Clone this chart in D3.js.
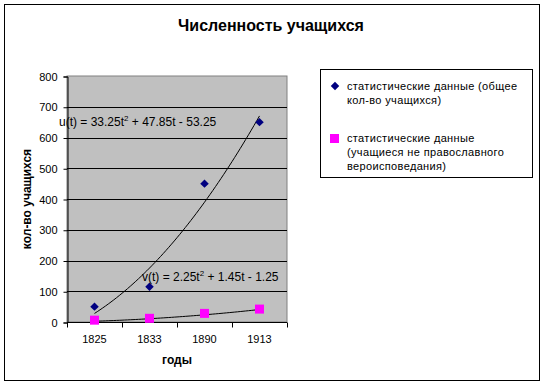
<!DOCTYPE html>
<html lang="ru">
<head>
<meta charset="UTF-8" />
<title>Численность учащихся</title>
<script src="https://cdn.jsdelivr.net/npm/d3@7"></script>
<style>
  body { margin: 0; background: #fff; }
  text { font-family: "Liberation Sans", Arial, sans-serif; fill: #000; }
</style>
</head>
<body>
<script>
  // data
  var years = ["1825", "1833", "1890", "1913"];
  var totalStudents = [50, 115, 450, 650];
  var nonOrthodox = [6, 12, 28, 42];
  var yTicks = [0, 100, 200, 300, 400, 500, 600, 700, 800];
  // trendline coefficients as printed on the chart (a*t^2 + b*t + c)
  var uCoef = [33.25, 47.85, -53.25];
  var vCoef = [2.25, 1.45, -1.25];

  var w = 544, h = 385;
  var plot = { left: 67, right: 287, top: 76, bottom: 322 };

  var svg = d3.select("body").append("svg")
    .attr("width", w)
    .attr("height", h);

  // outer frame
  svg.append("rect")
    .attr("x", 4.5).attr("y", 4.5)
    .attr("width", 535).attr("height", 376)
    .attr("fill", "#fff")
    .attr("stroke", "#000");

  svg.append("text")
    .attr("x", 271).attr("y", 31)
    .attr("text-anchor", "middle")
    .attr("font-size", "16px")
    .attr("font-weight", "bold")
    .text("Численность учащихся");

  var x = d3.scaleBand()
    .domain(years)
    .range([plot.left, plot.right])
    .padding(0);

  var y = d3.scaleLinear()
    .domain([0, 800])
    .range([plot.bottom, plot.top]);

  // plot area
  svg.append("rect")
    .attr("x", plot.left).attr("y", plot.top)
    .attr("width", plot.right - plot.left)
    .attr("height", plot.bottom - plot.top)
    .attr("fill", "#c0c0c0")
    .attr("stroke", "#808080");

  svg.selectAll(".grid")
    .data(yTicks.filter(function(d) { return d > 0 && d < 800; }))
    .enter()
    .append("line")
    .attr("class", "grid")
    .attr("x1", plot.left).attr("x2", plot.right)
    .attr("y1", function(d) { return Math.round(y(d)) + 0.5; })
    .attr("y2", function(d) { return Math.round(y(d)) + 0.5; })
    .attr("stroke", "#000");

  // y axis
  var yAxis = d3.axisLeft(y)
    .tickValues(yTicks)
    .tickSize(4)
    .tickPadding(6)
    .tickFormat(d3.format("d"));
  var gy = svg.append("g")
    .attr("transform", "translate(" + (plot.left + 0.5) + ",0.5)")
    .call(yAxis);
  gy.select(".domain").attr("stroke", "#000");
  gy.selectAll("text").attr("font-size", "11px").attr("font-family", "Liberation Sans, Arial, sans-serif");

  // x axis: ticks between categories
  var gx = svg.append("g")
    .attr("transform", "translate(0," + (plot.bottom + 0.5) + ")");
  gx.append("line")
    .attr("x1", plot.left).attr("x2", plot.right)
    .attr("stroke", "#000");
  var bounds = years.map(function(d) { return x(d); }).concat([plot.right]);
  gx.selectAll(".xt")
    .data(bounds)
    .enter()
    .append("line")
    .attr("class", "xt")
    .attr("x1", function(d) { return Math.round(d) + 0.5; })
    .attr("x2", function(d) { return Math.round(d) + 0.5; })
    .attr("y1", 0).attr("y2", 5)
    .attr("stroke", "#000");
  gx.selectAll(".xl")
    .data(years)
    .enter()
    .append("text")
    .attr("class", "xl")
    .attr("x", function(d) { return x(d) + x.bandwidth() / 2; })
    .attr("y", 20)
    .attr("text-anchor", "middle")
    .attr("font-size", "11px")
    .text(function(d) { return d; });

  svg.append("text")
    .attr("x", (plot.left + plot.right) / 2).attr("y", 364)
    .attr("text-anchor", "middle")
    .attr("font-size", "12px")
    .attr("font-weight", "bold")
    .text("годы");

  svg.append("text")
    .attr("transform", "translate(31," + (plot.top + plot.bottom) / 2 + ") rotate(-90)")
    .attr("text-anchor", "middle")
    .attr("font-size", "12px")
    .attr("font-weight", "bold")
    .text("кол-во учащихся");

  // trendlines, t = 1..4 maps onto category centres
  var tx = d3.scaleLinear()
    .domain([1, years.length])
    .range([x(years[0]) + x.bandwidth() / 2, x(years[years.length - 1]) + x.bandwidth() / 2]);
  var ts = d3.range(1, years.length + 0.001, 0.05);
  function poly(c) {
    return function(t) { return c[0] * t * t + c[1] * t + c[2]; };
  }
  var line = d3.line()
    .x(function(d) { return tx(d.t); })
    .y(function(d) { return y(d.v); });
  [uCoef, vCoef].forEach(function(c) {
    var f = poly(c);
    svg.append("path")
      .datum(ts.map(function(t) { return { t: t, v: f(t) }; }))
      .attr("d", line)
      .attr("fill", "none")
      .attr("stroke", "#000")
      .attr("stroke-width", 1);
  });

  // markers
  svg.selectAll(".sq")
    .data(nonOrthodox)
    .enter()
    .append("rect")
    .attr("class", "sq")
    .attr("x", function(d, i) { return x(years[i]) + x.bandwidth() / 2 - 4.5; })
    .attr("y", function(d) { return y(d) - 4.5; })
    .attr("width", 9).attr("height", 9)
    .attr("fill", "#ff00ff");

  var diamond = d3.symbol().type(d3.symbolSquare).size(36);
  svg.selectAll(".dm")
    .data(totalStudents)
    .enter()
    .append("path")
    .attr("class", "dm")
    .attr("d", diamond)
    .attr("transform", function(d, i) {
      return "translate(" + (x(years[i]) + x.bandwidth() / 2) + "," + y(d) + ") rotate(45)";
    })
    .attr("fill", "#000080");

  // trendline equations
  function equation(label, c, px, py) {
    var t = svg.append("text")
      .attr("x", px).attr("y", py)
      .attr("font-size", "12px");
    t.append("tspan").text(label + "(t) = " + c[0] + "t");
    t.append("tspan").attr("dy", -5).attr("font-size", "8px").text("2");
    t.append("tspan").attr("dy", 5)
      .text(" + " + c[1] + "t " + (c[2] < 0 ? "- " : "+ ") + Math.abs(c[2]));
  }
  equation("u", uCoef, 59, 126);
  equation("v", vCoef, 142, 281);

  // legend
  var legend = svg.append("g");
  legend.append("rect")
    .attr("x", 320.5).attr("y", 69.5)
    .attr("width", 212).attr("height", 108)
    .attr("fill", "#fff")
    .attr("stroke", "#000");
  legend.append("path")
    .attr("d", diamond)
    .attr("transform", "translate(335,86) rotate(45)")
    .attr("fill", "#000080");
  legend.append("rect")
    .attr("x", 330).attr("y", 134)
    .attr("width", 9).attr("height", 9)
    .attr("fill", "#ff00ff");
  var legendLines = [
    [["статистические данные (общее", "кол-во учащихся)"], 90],
    [["статистические данные", "(учащиеся не православного", "вероисповедания)"], 142]
  ];
  legendLines.forEach(function(entry) {
    var t = legend.append("text")
      .attr("font-size", "11px")
      .attr("letter-spacing", "0.35px");
    entry[0].forEach(function(s, i) {
      t.append("tspan")
        .attr("x", 347)
        .attr("y", entry[1] + i * 14)
        .text(s);
    });
  });
</script>
</body>
</html>
